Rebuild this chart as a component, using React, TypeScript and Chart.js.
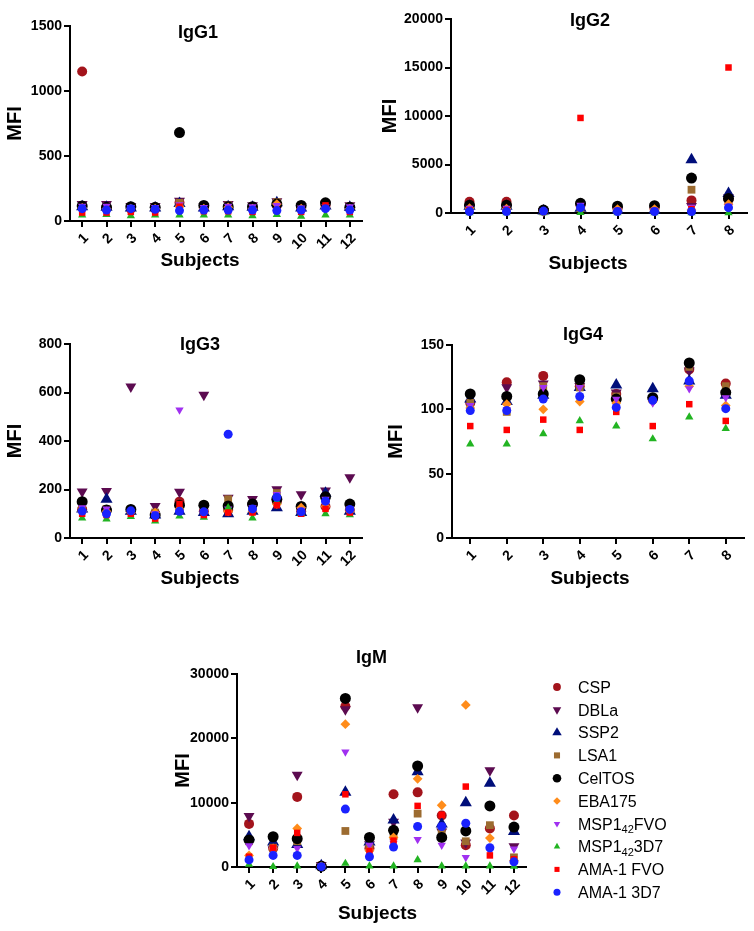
import React, { useEffect, useRef } from 'react';
import { Chart, registerables } from 'chart.js';
import { drawPoint } from 'chart.js/helpers';

Chart.register(...registerables);

const FONT = "'Liberation Sans', Arial, Helvetica, sans-serif";

// ---------- categories ----------
const subjects12 = ['1', '2', '3', '4', '5', '6', '7', '8', '9', '10', '11', '12'];
const subjects8 = ['1', '2', '3', '4', '5', '6', '7', '8'];

// ---------- series ----------
const seriesNames = ['CSP', 'DBLa', 'SSP2', 'LSA1', 'CelTOS', 'EBA175', 'MSP142FVO', 'MSP1423D7', 'AMA-1 FVO', 'AMA-1 3D7'];
// legend label pieces: [text, isSubscript]
const legendLabels: [string, boolean][][] = [
  [['CSP', false]],
  [['DBLa', false]],
  [['SSP2', false]],
  [['LSA1', false]],
  [['CelTOS', false]],
  [['EBA175', false]],
  [['MSP1', false], ['42', true], ['FVO', false]],
  [['MSP1', false], ['42', true], ['3D7', false]],
  [['AMA-1 FVO', false]],
  [['AMA-1 3D7', false]],
];
const seriesColors = ['#A3141C', '#5C0B50', '#000E7A', '#9C6B30', '#000000', '#FF8C1A', '#A030F0', '#22B422', '#FF0000', '#1A22FF'];
const seriesShapes = ['circle', 'triangle', 'triangle', 'rect', 'circle', 'rectRot', 'triangle', 'triangle', 'rect', 'circle'];
const seriesRotation = [0, 180, 0, 0, 0, 0, 180, 0, 0, 0];
const seriesRadius = [5, 6.3, 7, 5.5, 5.5, 4.9, 4.8, 4.8, 4.6, 4.5];

// ---------- values (rows follow seriesNames) ----------
const igg1Values = [
  [1150, 105, 95, 95, 140, 100, 105, 100, 120, 95, 120, 100],
  [130, 130, 115, 115, 155, 110, 130, 120, 150, 110, 125, 120],
  [110, 105, 100, 100, 135, 100, 110, 105, 140, 100, 115, 105],
  [115, 110, 105, 105, 140, 105, 120, 110, 145, 105, 120, 110],
  [115, 105, 110, 105, 680, 120, 110, 110, 130, 120, 140, 105],
  [100, 95, 95, 95, 110, 95, 105, 95, 130, 95, 100, 95],
  [115, 115, 105, 105, 125, 105, 115, 110, 120, 100, 110, 110],
  [45, 50, 40, 45, 45, 45, 45, 40, 50, 35, 45, 45],
  [65, 65, 70, 65, 110, 75, 75, 70, 80, 70, 120, 70],
  [95, 85, 95, 90, 80, 85, 85, 85, 80, 85, 95, 85],
];
const igg2Values = [
  [1150, 1150, 250, 800, 400, 450, 1300, 1400],
  [600, 600, 200, 700, 300, 350, 700, 1600],
  [700, 700, 200, 500, 300, 300, 5500, 2000],
  [500, 500, 200, 500, 300, 300, 2400, 1300],
  [800, 800, 300, 1000, 700, 750, 3600, 1500],
  [500, 450, 150, 500, 400, 400, 300, 900],
  [500, 500, 200, 800, 300, 300, 600, 700],
  [10, 10, 10, 50, 10, 10, 10, 10],
  [300, 300, 150, 9800, 200, 200, 400, 15000],
  [150, 150, 200, 550, 150, 150, 150, 550],
];
const igg3Values = [
  [118, 115, 110, 100, 150, 110, 115, 140, 150, 110, 130, 115],
  [191, 193, 624, 131, 190, 590, 165, 160, 200, 180, 195, 250],
  [120, 160, 110, 95, 110, 105, 100, 110, 125, 105, 185, 110],
  [125, 120, 115, 105, 130, 115, 160, 135, 185, 120, 170, 120],
  [150, 115, 118, 95, 135, 135, 132, 140, 160, 130, 170, 140],
  [110, 110, 105, 105, 120, 105, 110, 110, 140, 125, 130, 110],
  [125, 120, 110, 100, 528, 110, 120, 125, 180, 115, 160, 120],
  [82, 78, 88, 70, 90, 85, 125, 82, 150, 100, 100, 95],
  [100, 95, 100, 80, 140, 95, 105, 105, 135, 100, 120, 105],
  [111, 100, 112, 92, 110, 108, 428, 120, 168, 108, 152, 118],
];
const igg4Values = [
  [105, 121, 126, 118, 112, 108, 131, 120],
  [104, 117, 120, 118, 113, 107, 130, 112],
  [108, 106, 111, 117, 119, 116, 122, 111],
  [105, 98, 118, 117, 110, 108, 133, 118],
  [112, 110, 112, 123, 108, 109, 136, 113],
  [101, 104, 100, 106, 105, 106, 118, 103],
  [103, 100, 117, 117, 108, 105, 116, 109],
  [73, 73, 81, 91, 87, 77, 94, 85],
  [87, 84, 92, 84, 98, 87, 104, 91],
  [99, 99, 108, 110, 101.5, 107, 122, 100.5],
];
const igmValues = [
  [6700, 2900, 10900, 200, 25000, 2900, 11300, 11600, 8000, 3400, 6000, 8000],
  [7900, 2700, 14300, 300, 24500, 3500, 7000, 24800, 5500, 3800, 15000, 3200],
  [4700, 3900, 3500, 200, 11600, 3900, 7300, 14800, 6700, 10000, 13000, 5500],
  [4000, 3000, 4000, 200, 5600, 3000, 4800, 8300, 5500, 4000, 6500, 1500],
  [4200, 4700, 4400, 100, 26200, 4600, 5700, 15700, 4600, 5600, 9500, 6200],
  [1800, 2900, 6000, 100, 22200, 2600, 4600, 13700, 9600, 25200, 4500, 1000],
  [3300, 2600, 2900, 200, 17900, 3400, 3700, 4300, 3400, 1500, 2500, 2800],
  [400, 50, 150, 50, 550, 150, 150, 1100, 150, 150, 150, 100],
  [1600, 3000, 5300, 100, 11300, 2500, 4100, 9500, 8100, 12500, 1800, 1200],
  [1100, 1800, 1800, 50, 9000, 1600, 3100, 6300, 6300, 6800, 3000, 800],
];

// ---------- axis ranges ----------
const igg1Axis = { max: 1500, step: 500 };
const igg2Axis = { max: 20000, step: 5000 };
const igg3Axis = { max: 800, step: 200 };
const igg4Axis = { max: 150, step: 50 };
const igmAxis = { max: 30000, step: 10000 };

type Box = { left: number; top: number; width: number; height: number };
type Area = { left: number; top: number; right: number; bottom: number };
type PanelCfg = {
  title: string;
  labels: string[];
  values: number[][];
  axis: { max: number; step: number };
  box: Box;
  area: Area;
  mfiX: number;
  titleDx: number;
  titleDy: number;
  subjDx: number;
  subjDy: number;
  legend?: boolean;
};

const panels: PanelCfg[] = [
  { title: 'IgG1', labels: subjects12, values: igg1Values, axis: igg1Axis,
    box: { left: 0, top: 0, width: 377, height: 280 }, area: { left: 70, top: 26, right: 362, bottom: 221 },
    mfiX: 15, titleDx: -18, titleDy: 12, subjDx: -16, subjDy: 45 },
  { title: 'IgG2', labels: subjects8, values: igg2Values, axis: igg2Axis,
    box: { left: 377, top: 0, width: 377, height: 280 }, area: { left: 74, top: 19, right: 370, bottom: 213 },
    mfiX: 13, titleDx: -9, titleDy: 7, subjDx: -11, subjDy: 55.5 },
  { title: 'IgG3', labels: subjects12, values: igg3Values, axis: igg3Axis,
    box: { left: 0, top: 280, width: 377, height: 310 }, area: { left: 70, top: 64, right: 362, bottom: 258 },
    mfiX: 15, titleDx: -16, titleDy: 6, subjDx: -16, subjDy: 46 },
  { title: 'IgG4', labels: subjects8, values: igg4Values, axis: igg4Axis,
    box: { left: 377, top: 280, width: 377, height: 310 }, area: { left: 75, top: 65, right: 367, bottom: 258 },
    mfiX: 19, titleDx: -15, titleDy: -5, subjDx: -8, subjDy: 46 },
  { title: 'IgM', labels: subjects12, values: igmValues, axis: igmAxis,
    box: { left: 150, top: 600, width: 604, height: 331 }, area: { left: 87, top: 74, right: 376, bottom: 267 },
    mfiX: 33, titleDx: -10, titleDy: -11, subjDx: -4, subjDy: 51.5, legend: true },
];

const panelTextPlugin = {
  id: 'panelText',
  afterDraw(chart: any, _args: any, opts: any) {
    const { ctx, chartArea } = chart;
    const cx = (chartArea.left + chartArea.right) / 2;
    ctx.save();
    ctx.fillStyle = '#000';
    ctx.textAlign = 'center';
    ctx.textBaseline = 'alphabetic';
    ctx.font = `bold 18px ${FONT}`;
    ctx.fillText(opts.title, cx + opts.titleDx, chartArea.top + opts.titleDy);
    ctx.font = `bold 19px ${FONT}`;
    ctx.fillText('Subjects', cx + opts.subjDx, chartArea.bottom + opts.subjDy);
    if (opts.legend) {
      const mx = chartArea.right + 31;
      const tx = chartArea.right + 52;
      seriesNames.forEach((_, i) => {
        const y = chartArea.top + 13 + i * 22.8;
        ctx.fillStyle = seriesColors[i];
        drawPoint(ctx, { pointStyle: seriesShapes[i], rotation: seriesRotation[i], radius: seriesRadius[i] * 0.78, borderWidth: 0 } as any, mx, y);
        ctx.fillStyle = '#000';
        ctx.textAlign = 'left';
        let x = tx;
        for (const [txt, sub] of legendLabels[i]) {
          ctx.font = sub ? `11px ${FONT}` : `16px ${FONT}`;
          ctx.fillText(txt, x, y + (sub ? 9.5 : 5.7));
          x += ctx.measureText(txt).width;
        }
      });
    }
    ctx.restore();
  },
};

function buildConfig(cfg: PanelCfg): any {
  const tickFont = { family: FONT, size: 14, weight: 'bold' };
  const n = seriesNames.length;
  return {
    type: 'line',
    data: {
      labels: cfg.labels,
      datasets: seriesNames.map((name, i) => ({
        label: name,
        data: cfg.values[i],
        showLine: false,
        pointStyle: seriesShapes[i],
        pointRotation: seriesRotation[i],
        pointRadius: seriesRadius[i],
        pointHoverRadius: seriesRadius[i],
        pointBackgroundColor: seriesColors[i],
        pointBorderColor: seriesColors[i],
        pointBorderWidth: 0,
        clip: false,
        order: n - 1 - i,
      })),
    },
    options: {
      animation: false,
      responsive: false,
      events: [],
      layout: { padding: { left: 0, top: cfg.area.top, right: cfg.box.width - cfg.area.right, bottom: 0 } },
      plugins: {
        legend: { display: false },
        tooltip: { enabled: false },
        panelText: { title: cfg.title, titleDx: cfg.titleDx, titleDy: cfg.titleDy, subjDx: cfg.subjDx, subjDy: cfg.subjDy, legend: !!cfg.legend },
      },
      scales: {
        x: {
          type: 'category',
          offset: true,
          grid: { display: true, drawOnChartArea: false, drawTicks: true, tickLength: 6, color: '#000', lineWidth: 2, offset: false },
          border: { display: true, color: '#000', width: 2 },
          ticks: { color: '#000', font: tickFont, minRotation: 45, maxRotation: 45, padding: 3, labelOffset: 4, autoSkip: false },
          afterFit: (s: any) => { s.height = cfg.box.height - cfg.area.bottom; },
        },
        y: {
          min: 0,
          max: cfg.axis.max,
          grid: { display: true, drawOnChartArea: false, drawTicks: true, tickLength: 6, color: '#000', lineWidth: 2 },
          border: { display: true, color: '#000', width: 2 },
          ticks: { color: '#000', font: tickFont, stepSize: cfg.axis.step, padding: 2, callback: (v: any) => String(v) },
          title: { display: true, text: 'MFI', color: '#000', font: { family: FONT, size: 20, weight: 'bold' }, padding: { top: cfg.mfiX - 12, bottom: 0 } },
          afterFit: (s: any) => { s.width = cfg.area.left; },
        },
      },
    },
    plugins: [panelTextPlugin],
  };
}

function Panel({ cfg }: { cfg: PanelCfg }) {
  const ref = useRef<HTMLCanvasElement>(null);
  useEffect(() => {
    const chart = new Chart(ref.current as HTMLCanvasElement, buildConfig(cfg));
    return () => chart.destroy();
  }, [cfg]);
  return (
    <canvas
      ref={ref}
      width={cfg.box.width}
      height={cfg.box.height}
      style={{ position: 'absolute', left: cfg.box.left, top: cfg.box.top, width: cfg.box.width, height: cfg.box.height }}
    />
  );
}

export default function App() {
  return (
    <div style={{ position: 'absolute', left: 0, top: 0, width: 754, height: 931, background: '#fff', overflow: 'hidden' }}>
      {panels.map((p) => (
        <Panel key={p.title} cfg={p} />
      ))}
    </div>
  );
}
